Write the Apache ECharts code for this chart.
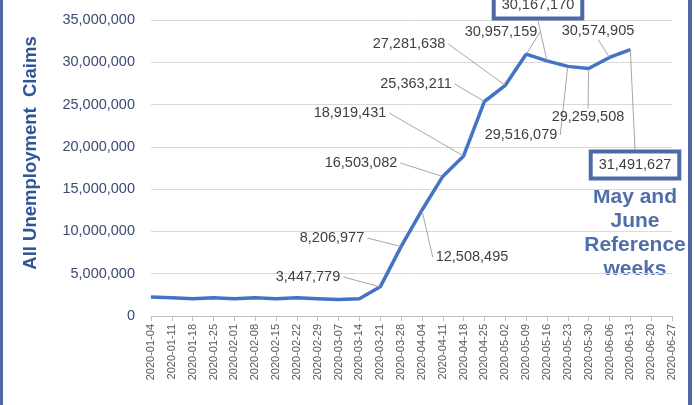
<!DOCTYPE html>
<html><head><meta charset="utf-8">
<script src="https://cdn.jsdelivr.net/npm/echarts@6/dist/echarts.min.js"></script>
<style>html,body{margin:0;padding:0;background:#fff}#c{width:695px;height:405px}</style>
</head><body><div id="c"></div>
<script>
const categories = ['2020-01-04','2020-01-11','2020-01-18','2020-01-25','2020-02-01','2020-02-08','2020-02-15','2020-02-22','2020-02-29','2020-03-07','2020-03-14','2020-03-21','2020-03-28','2020-04-04','2020-04-11','2020-04-18','2020-04-25','2020-05-02','2020-05-09','2020-05-16','2020-05-23','2020-05-30','2020-06-06','2020-06-13','2020-06-20','2020-06-27'];
const claims = [2250000,2150000,2050000,2150000,2050000,2150000,2050000,2150000,2050000,1950000,2050000,3447779,8206977,12508495,16503082,18919431,25363211,27281638,30957159,30167170,29516079,29259508,30574905,31491627,null,null];
const labeledIdx = [11,12,13,14,15,16,17,18,19,20,21,22,23];
const boxedIdx = [19,23];
const yTicks = {min:0,max:35000000,interval:5000000};
const yTitle = 'All Unemployment  Claims';
const noteLines = ['May and','June','Reference','weeks'];

// label placements (layout only)
const labelPos = {11:[308,277],12:[332,238],13:[472,257],14:[361,163],15:[350,113],16:[416,84],17:[409,44],18:[501,32],19:[538,5],20:[521,135],21:[588,117],22:[598,31],23:[635,165]};

const fmt = v => v.toLocaleString('en-US');
const FONT = '"Liberation Sans", Arial, sans-serif';
const boxColor = '#4d6aa4';

const seriesData = claims.map((v,i)=>{
  const d = {value:v};
  if (labeledIdx.includes(i)) {
    const boxed = boxedIdx.includes(i);
    d.label = {show:true, formatter: p=>fmt(p.value), fontSize:14.5, color:'#404040', fontFamily:FONT,
      backgroundColor: boxed?'#fff':'transparent', borderColor: boxed?boxColor:'transparent', borderWidth: boxed?4:0,
      padding: boxed?[4,6,4,6]:[1,3]};
    d.labelLine = {show:true, lineStyle:{color:'#a6a6a6', width:1}};
  } else {
    d.label = {show:false};
  }
  return d;
});

const chart = echarts.init(document.getElementById('c'), null, {renderer:'canvas'});
chart.setOption({
  animation:false,
  grid:{left:151, right:23, top:20, bottom:89, containLabel:false},
  xAxis:{type:'category', data:categories, boundaryGap:false,
    axisLine:{lineStyle:{color:'#bfbfbf'}}, axisTick:{show:true, alignWithLabel:true, length:5, lineStyle:{color:'#bfbfbf'}},
    axisLabel:{rotate:90, fontSize:11, color:'#595959', fontFamily:FONT, margin:8, interval:0}},
  yAxis:{type:'value', min:yTicks.min, max:yTicks.max, interval:yTicks.interval,
    axisLine:{show:false}, axisTick:{show:false},
    splitLine:{lineStyle:{color:'#d9d9d9'}},
    axisLabel:{formatter:v=>fmt(v), fontSize:14.5, color:'#3b4b72', fontFamily:FONT, margin:16}},
  series:[{type:'line', data:seriesData, showSymbol:true, symbol:'circle', symbolSize:1, connectNulls:false,
    itemStyle:{color:'#4472c4'},
    lineStyle:{color:'#4472c4', width:3.5},
    labelLayout: function(params){
      const p = labelPos[params.dataIndex];
      if(!p) return {};
      return {x:p[0], y:p[1], align:'center', verticalAlign:'middle', moveOverlap:false, hideOverlap:false};
    }}],
  graphic:[
    {type:'rect', shape:{x:0,y:0,width:3,height:405}, style:{fill:boxColor}},
    {type:'rect', shape:{x:688,y:0,width:4,height:405}, style:{fill:boxColor}},
    {type:'text', x:31, y:153, rotation:Math.PI/2, style:{text:yTitle, fill:'#2f5597', font:'bold 18.5px '+FONT, textAlign:'center', textVerticalAlign:'middle'}},
    {type:'text', x:635, y:233, style:{text:noteLines.join('\n'), fill:'#4f6fab', font:'bold 21px '+FONT, textAlign:'center', textVerticalAlign:'middle', lineHeight:24}}
  ]
});
</script></body></html>
